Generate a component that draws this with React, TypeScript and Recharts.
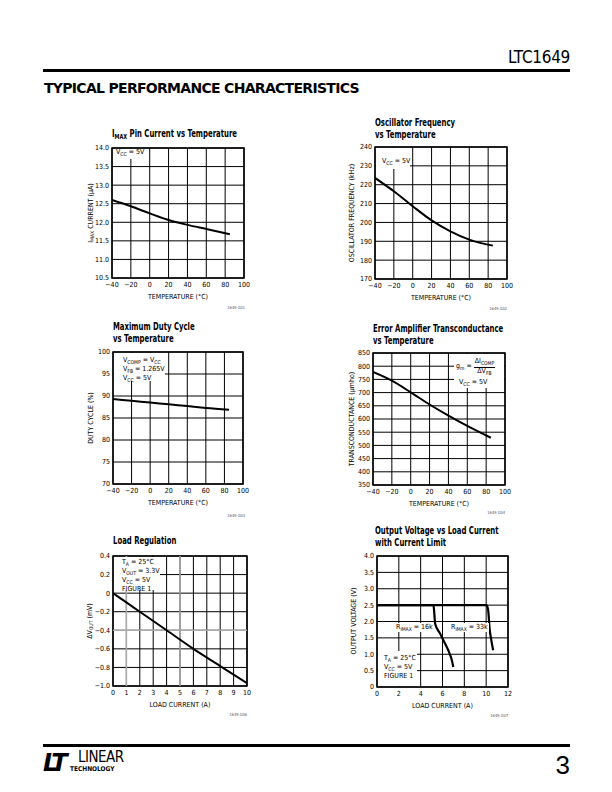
import React from 'react';
import { LineChart, Line, XAxis, YAxis, CartesianGrid, ReferenceArea, ReferenceLine } from 'recharts';

// ---- data ----
const tempTicks = [-40, -20, 0, 20, 40, 60, 80, 100];
const tempPoints = [-40, -20, 0, 20, 40, 60, 85];

const imaxTicks = [10.5, 11.0, 11.5, 12.0, 12.5, 13.0, 13.5, 14.0];
const imaxCurrent = [12.6, 12.43, 12.24, 12.06, 11.93, 11.82, 11.68];

const oscTicks = [170, 180, 190, 200, 210, 220, 230, 240];
const oscFrequency = [223.6, 216.5, 208.6, 201.1, 195.3, 190.9, 187.7];

const dutyTicks = [70, 75, 80, 85, 90, 95, 100];
const dutyCycle = [89.3, 88.9, 88.5, 88.1, 87.7, 87.3, 86.9];

const gmTicks = [350, 400, 450, 500, 550, 600, 650, 700, 750, 800, 850];
const transconductance = [778, 745, 701, 655, 613, 574, 529];

const loadTicks = [0, 1, 2, 3, 4, 5, 6, 7, 8, 9, 10];
const dvTicks = [-1.0, -0.8, -0.6, -0.4, -0.2, 0, 0.2, 0.4];
const loadPoints = [0, 1, 2, 4, 6, 8, 10];
const deltaVout = [0, -0.1, -0.2, -0.4, -0.6, -0.785, -0.97];

const outXTicks = [0, 2, 4, 6, 8, 10, 12];
const outYTicks = [0, 0.5, 1.0, 1.5, 2.0, 2.5, 3.0, 3.5, 4.0];
const r16kCurrent = [0, 5.17, 5.25, 5.32, 5.78, 6.23, 6.69, 6.84, 6.99];
const r16kVoltage = [2.5, 2.5, 2.25, 1.94, 1.63, 1.33, 0.99, 0.84, 0.61];
const r33kCurrent = [0, 10.03, 10.18, 10.33, 10.42, 10.64];
const r33kVoltage = [2.5, 2.5, 2.35, 1.73, 1.53, 1.12];

const pairs = (xs: number[], ys: number[]) => xs.map((x, i) => ({ x, y: ys[i] }));

const NARROW = "'Liberation Sans Narrow', 'DejaVu Sans Condensed', 'Liberation Sans', sans-serif";
const minus = (v: number, d = 0) => (v < 0 ? '\u2212' + Math.abs(v).toFixed(d) : v.toFixed(d));

const Sub = ({ children }: { children: React.ReactNode }) => (
  <span style={{ fontSize: '0.72em', verticalAlign: '-0.3em' }}>{children}</span>
);

interface PanelProps {
  x: number; y: number; w: number; h: number;
  xDomain: [number, number]; xTicks: number[]; xFmt: (v: number) => string;
  yDomain: [number, number]; yTicks: number[]; yFmt: (v: number) => string;
  xLabel: string;
  lines: { x: number; y: number }[][];
  lineWidth?: number;
  grayX?: number[];
  grayY?: number[];
}

const Panel = ({ x, y, w, h, xDomain, xTicks, xFmt, yDomain, yTicks, yFmt, xLabel, lines, lineWidth = 2, grayX = [], grayY = [] }: PanelProps) => {
  const ML = 40, MT = 4, MR = 10, XH = 26;
  const tick = { fill: '#000', fontSize: 7, fontFamily: NARROW };
  return (
    <div style={{ position: 'absolute', left: x - ML, top: y - MT }}>
      <LineChart width={ML + w + MR} height={MT + h + XH} margin={{ top: MT, right: MR, bottom: 0, left: 0 }}>
        <CartesianGrid stroke="#000" strokeWidth={1} />
        <XAxis
          type="number" dataKey="x" domain={xDomain} ticks={xTicks} tickFormatter={xFmt} interval={0}
          height={XH} tickSize={0} tickMargin={4} axisLine={false} tick={tick} allowDataOverflow
          label={{ value: xLabel, position: 'insideBottom', offset: 5, fontSize: 7, fill: '#000', fontFamily: NARROW }}
        />
        <YAxis
          type="number" domain={yDomain} ticks={yTicks} tickFormatter={yFmt} interval={0}
          width={ML} tickSize={0} tickMargin={3} axisLine={false} tick={tick} allowDataOverflow
        />
        {grayX.map((v) => <ReferenceLine key={'gx' + v} x={v} stroke="#aaa" strokeWidth={1.5} />)}
        {grayY.map((v) => <ReferenceLine key={'gy' + v} y={v} stroke="#aaa" strokeWidth={1.5} />)}
        <ReferenceArea x1={xDomain[0]} x2={xDomain[1]} y1={yDomain[0]} y2={yDomain[1]} fill="none" fillOpacity={0} stroke="#000" strokeWidth={1.5} />
        {lines.map((d, i) => (
          <Line key={i} data={d} dataKey="y" type="monotone" stroke="#000" strokeWidth={lineWidth} dot={false} isAnimationActive={false} />
        ))}
      </LineChart>
    </div>
  );
};

const abs = (left: number, top: number, extra: React.CSSProperties = {}): React.CSSProperties => ({
  position: 'absolute', left, top, ...extra,
});

const Title = ({ x, y, lines }: { x: number; y: number; lines: React.ReactNode[] }) => (
  <div style={abs(x, y, { fontFamily: NARROW, fontWeight: 700, fontSize: 9.6, lineHeight: '11.5px', whiteSpace: 'nowrap', transform: 'scaleX(0.8)', transformOrigin: 'left top' })}>
    {lines.map((l, i) => <div key={i}>{l}</div>)}
  </div>
);

const YLabel = ({ cx, cy, children }: { cx: number; cy: number; children: React.ReactNode }) => (
  <div style={abs(cx, cy, { transform: 'translate(-50%, -50%) rotate(-90deg)', fontFamily: NARROW, fontSize: 7, whiteSpace: 'nowrap' })}>
    {children}
  </div>
);

const Inset = ({ x, y, w, h, children, pad = 3 }: { x: number; y: number; w: number; h: number; children: React.ReactNode; pad?: number }) => (
  <div style={abs(x, y, { width: w, height: h, background: '#fff', fontFamily: NARROW, fontSize: 7, lineHeight: '7.5px', paddingLeft: pad, boxSizing: 'border-box', whiteSpace: 'nowrap' })}>
    {children}
  </div>
);

const FigId = ({ right, y, text }: { right: number; y: number; text: string }) => (
  <div style={abs(right - 30, y, { width: 30, textAlign: 'right', fontFamily: NARROW, fontSize: 4, color: '#555' })}>{text}</div>
);

const t0 = (v: number) => minus(v, 0);

export default function App() {
  return (
    <div style={{ position: 'absolute', left: 0, top: 0, width: 612, height: 792, background: '#fff', color: '#000' }}>
      {/* header */}
      <div style={abs(470, 47, { width: 100, textAlign: 'right', fontFamily: "'Liberation Sans Narrow', 'DejaVu Sans Condensed', sans-serif", fontSize: 17, fontWeight: 300, letterSpacing: -0.3 })}>LTC1649</div>
      <div style={abs(43, 69, { width: 527, height: 3, background: '#000' })} />
      <div style={abs(44, 80, { fontFamily: "'DejaVu Sans', sans-serif", fontWeight: 900, fontSize: 14, letterSpacing: -0.7, whiteSpace: 'nowrap' })}>
        TYPICAL PERFORMANCE CHARACTERISTICS
      </div>

      {/* chart 1 */}
      <Title x={112} y={128} lines={[<>I<Sub>MAX</Sub> Pin Current vs Temperature</>]} />
      <Panel x={112} y={148} w={132} h={130} xDomain={[-40, 100]} xTicks={tempTicks} xFmt={t0}
        yDomain={[10.5, 14]} yTicks={imaxTicks} yFmt={(v) => v.toFixed(1)} xLabel="TEMPERATURE (°C)"
        lines={[pairs(tempPoints, imaxCurrent)]} />
      <Inset x={113} y={149} w={25} h={10}>V<Sub>CC</Sub> = 5V</Inset>
      <YLabel cx={91} cy={213}>I<Sub>MAX</Sub> CURRENT (μA)</YLabel>
      <FigId right={245} y={305} text="1649 G01" />

      {/* chart 2 */}
      <Title x={375} y={117} lines={['Oscillator Frequency', 'vs Temperature']} />
      <Panel x={375} y={147} w={132} h={132} xDomain={[-40, 100]} xTicks={tempTicks} xFmt={t0}
        yDomain={[170, 240]} yTicks={oscTicks} yFmt={(v) => String(v)} xLabel="TEMPERATURE (°C)"
        lines={[pairs(tempPoints, oscFrequency)]} />
      <Inset x={376} y={148} w={34} h={21} pad={6}><div style={{ paddingTop: 10 }}>V<Sub>CC</Sub> = 5V</div></Inset>
      <YLabel cx={352} cy={213}>OSCILLATOR FREQUENCY (kHz)</YLabel>
      <FigId right={507} y={306} text="1649 G02" />

      {/* chart 3 */}
      <Title x={113} y={321} lines={['Maximum Duty Cycle', 'vs Temperature']} />
      <Panel x={113} y={352} w={130} h={132} xDomain={[-40, 100]} xTicks={tempTicks} xFmt={t0}
        yDomain={[70, 100]} yTicks={dutyTicks} yFmt={(v) => String(v)} xLabel="TEMPERATURE (°C)"
        lines={[pairs(tempPoints, dutyCycle)]} />
      <Inset x={114} y={353} w={51} h={28} pad={9}>
        <div style={{ paddingTop: 4 }}>V<Sub>COMP</Sub> = V<Sub>CC</Sub></div>
        <div>V<Sub>FB</Sub> = 1.265V</div>
        <div>V<Sub>CC</Sub> = 5V</div>
      </Inset>
      <YLabel cx={91} cy={418}>DUTY CYCLE (%)</YLabel>
      <FigId right={245} y={513} text="1649 G03" />

      {/* chart 4 */}
      <Title x={373} y={323} lines={['Error Amplifier Transconductance', 'vs Temperature']} />
      <Panel x={373} y={353} w={132} h={132} xDomain={[-40, 100]} xTicks={tempTicks} xFmt={t0}
        yDomain={[350, 850]} yTicks={gmTicks} yFmt={(v) => String(v)} xLabel="TEMPERATURE (°C)"
        lines={[pairs(tempPoints, transconductance)]} />
      <Inset x={454} y={354} w={50} h={34} pad={2}>
        <div style={{ display: 'flex', alignItems: 'center', paddingTop: 4 }}>
          <span>g<Sub>m</Sub> = </span>
          <span style={{ display: 'inline-flex', flexDirection: 'column', alignItems: 'center', marginLeft: 2 }}>
            <span style={{ borderBottom: '0.8px solid #000', padding: '0 1px' }}>ΔI<Sub>COMP</Sub></span>
            <span>ΔV<Sub>FB</Sub></span>
          </span>
        </div>
        <div style={{ paddingLeft: 3, paddingTop: 2 }}>V<Sub>CC</Sub> = 5V</div>
      </Inset>
      <YLabel cx={352} cy={419}>TRANSCONDUCTANCE (μmho)</YLabel>
      <FigId right={505} y={510} text="1649 G04" />

      {/* chart 5 */}
      <Title x={113} y={535} lines={['Load Regulation']} />
      <Panel x={113} y={556} w={134} h={130} xDomain={[0, 10]} xTicks={loadTicks} xFmt={t0}
        yDomain={[-1, 0.4]} yTicks={dvTicks} yFmt={(v) => (v === 0 ? '0' : minus(v, 1))} xLabel="LOAD CURRENT (A)"
        lines={[pairs(loadPoints, deltaVout)]} grayX={[1, 5]} grayY={[-0.4]} />
      <Inset x={114} y={557} w={46} h={33} pad={8}>
        <div style={{ paddingTop: 2 }}>T<Sub>A</Sub> = 25°C</div>
        <div>V<Sub>OUT</Sub> = 3.3V</div>
        <div>V<Sub>CC</Sub> = 5V</div>
        <div>FIGURE 1</div>
      </Inset>
      <YLabel cx={90} cy={621}>ΔV<Sub>OUT</Sub> (mV)</YLabel>
      <FigId right={247} y={712} text="1649 G06" />

      {/* chart 6 */}
      <Title x={375} y={525} lines={['Output Voltage vs Load Current', 'with Current Limit']} />
      <Panel x={377} y={556} w={131} h={131} xDomain={[0, 12]} xTicks={outXTicks} xFmt={t0}
        yDomain={[0, 4]} yTicks={outYTicks} yFmt={(v) => (v === 0 ? '0' : v.toFixed(1))} xLabel="LOAD CURRENT (A)"
        lines={[pairs(r16kCurrent, r16kVoltage), pairs(r33kCurrent, r33kVoltage)]} lineWidth={2.2} />
      <Inset x={378} y={651} w={39} h={35} pad={6}>
        <div style={{ paddingTop: 4 }}>T<Sub>A</Sub> = 25°C</div>
        <div>V<Sub>CC</Sub> = 5V</div>
        <div>FIGURE 1</div>
      </Inset>
      <div style={abs(395, 623, { background: '#fff', fontFamily: NARROW, fontSize: 7, padding: '0 1px', whiteSpace: 'nowrap' })}>R<Sub>IMAX</Sub> = 16k</div>
      <div style={abs(450, 623, { background: '#fff', fontFamily: NARROW, fontSize: 7, padding: '0 1px', whiteSpace: 'nowrap' })}>R<Sub>IMAX</Sub> = 33k</div>
      <YLabel cx={354} cy={621}>OUTPUT VOLTAGE (V)</YLabel>
      <FigId right={508} y={713} text="1649 G07" />

      {/* footer */}
      <div style={abs(43, 744, { width: 527, height: 3, background: '#000' })} />
      <div style={abs(43, 751, { fontFamily: "'DejaVu Sans', sans-serif", fontWeight: 900, fontStyle: 'italic', fontSize: 24, letterSpacing: -3, lineHeight: '24px', whiteSpace: 'nowrap' })}>LT</div>
      <div style={abs(78, 750, { fontFamily: "'DejaVu Sans Condensed', sans-serif", fontSize: 15, letterSpacing: -0.5, lineHeight: '15px', whiteSpace: 'nowrap' })}>LINEAR</div>
      <div style={abs(70, 766, { fontFamily: "'DejaVu Sans Condensed', sans-serif", fontWeight: 700, fontSize: 6.5, lineHeight: '7px', whiteSpace: 'nowrap' })}>TECHNOLOGY</div>
      <div style={abs(540, 750, { width: 30, textAlign: 'right', fontFamily: "'Liberation Sans', sans-serif", fontSize: 26, fontWeight: 300 })}>3</div>
    </div>
  );
}
